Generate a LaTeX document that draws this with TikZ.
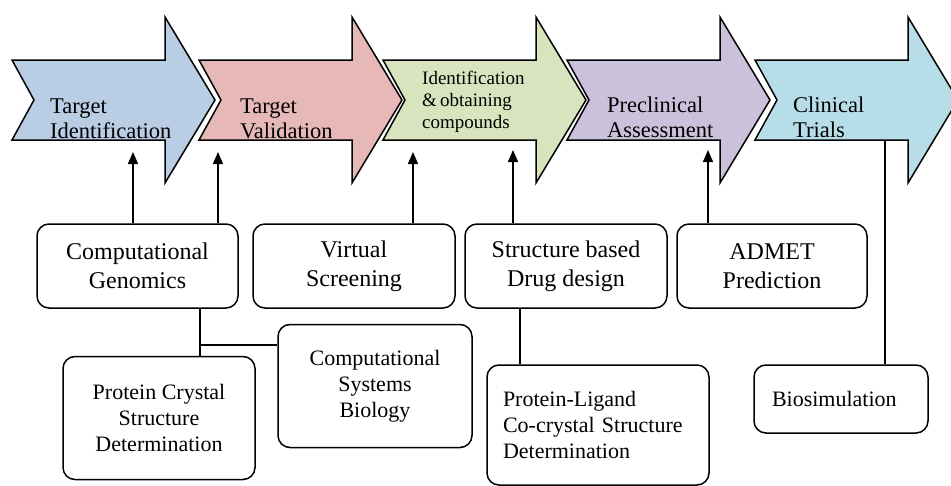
\documentclass[tikz,border=0pt]{standalone}
\usepackage{fontspec}
\setmainfont{Liberation Serif}
\usetikzlibrary{arrows.meta}
\definecolor{stageblue}{RGB}{185,205,229}
\definecolor{stagepink}{RGB}{230,185,184}
\definecolor{stagegreen}{RGB}{215,228,189}
\definecolor{stagepurple}{RGB}{204,193,218}
\definecolor{stagecyan}{RGB}{183,222,232}
\begin{document}
\begin{tikzpicture}[x=1pt,y=-1pt,
  stagetext/.style={anchor=west,align=left,inner sep=0pt,font=\fontsize{22.5}{25}\selectfont},
  toolbox/.style={draw,line width=1.5pt,rounded corners=12pt,align=center,inner sep=2pt},
  joinline/.style={line width=1.5pt},
  uplink/.style={joinline,-{Triangle[width=10pt,length=12pt]}}]
\useasboundingbox (0,0) rectangle (951,485);
\clip (0,0) rectangle (951,485);
% the five stages
\foreach \l/\c in {12/stageblue,199/stagepink,383/stagegreen,567/stagepurple,755/stagecyan}
  \draw[line width=1.5pt,fill=\c] (\l,60) -- (\l+153,60) -- (\l+153,17) -- (\l+203,100)
    -- (\l+153,183) -- (\l+153,140) -- (\l,140) -- (\l+22,100) -- cycle;
\node[stagetext] (ti) at (50,119) {Target\\Identification};
\node[stagetext] (tv) at (240,119) {Target\\Validation};
\node[stagetext,font=\fontsize{19}{22}\selectfont] (ic) at (422,102) {Identification\\\&\,obtaining\\compounds};
\node[stagetext] (pa) at (607,117) {Preclinical\\Assessment};
\node[stagetext] (ct) at (793,117) {Clinical\\Trials};
% computational tools
\node[toolbox,minimum width=201pt,minimum height=84pt,font=\fontsize{24}{29}\selectfont] (cg) at (137.5,266) {Computational\\Genomics};
\node[toolbox,minimum width=202pt,minimum height=84pt,font=\fontsize{24}{29}\selectfont] (vs) at (354,266) {Virtual\\Screening};
\node[toolbox,minimum width=202pt,minimum height=84pt,font=\fontsize{24}{29}\selectfont] (sbdd) at (566,266) {Structure based\\Drug design};
\node[toolbox,minimum width=190pt,minimum height=84pt,font=\fontsize{24}{29}\selectfont] (admet) at (772,266) {ADMET\\Prediction};
\node[toolbox,minimum width=192pt,minimum height=123pt,font=\fontsize{22}{26}\selectfont] (pcsd) at (159,418) {Protein Crystal\\Structure\\Determination};
\node[toolbox,minimum width=194pt,minimum height=123pt,font=\fontsize{22}{26}\selectfont] (csb) at (375,386) {Computational\\Systems\\Biology};
\node[toolbox,align=left,inner xsep=16pt,text width=190pt,minimum height=120pt,font=\fontsize{22}{26}\selectfont] (plcsd) at (598,425) {Protein-Ligand\\Co-crystal Structure\\Determination};
\node[toolbox,align=left,inner xsep=18pt,text width=138pt,minimum height=68pt,font=\fontsize{22}{26}\selectfont] (bio) at (841,399) {Biosimulation};
% connectors
\coordinate (a1) at (133,152);
\coordinate (a2) at (218,152);
\coordinate (a3) at (413,152);
\coordinate (a4) at (513,150);
\coordinate (a5) at (708,150);
\coordinate (tr) at (885,140);
\coordinate (j1) at (200,345);
\coordinate (j2) at (520,340);
\draw[uplink] (a1 |- cg.north) -- (a1);
\draw[uplink] (a2 |- cg.north) -- (a2);
\draw[uplink] (a3 |- vs.north) -- (a3);
\draw[uplink] (a4 |- sbdd.north) -- (a4);
\draw[uplink] (a5 |- admet.north) -- (a5);
\draw[joinline] (tr) -- (tr |- bio.north);
\draw[joinline] (j1 |- cg.south) -- (j1 |- pcsd.north);
\draw[joinline] (j1) -- (j1 -| csb.west);
\draw[joinline] (j2 |- sbdd.south) -- (j2 |- plcsd.north);
\end{tikzpicture}
\end{document}
